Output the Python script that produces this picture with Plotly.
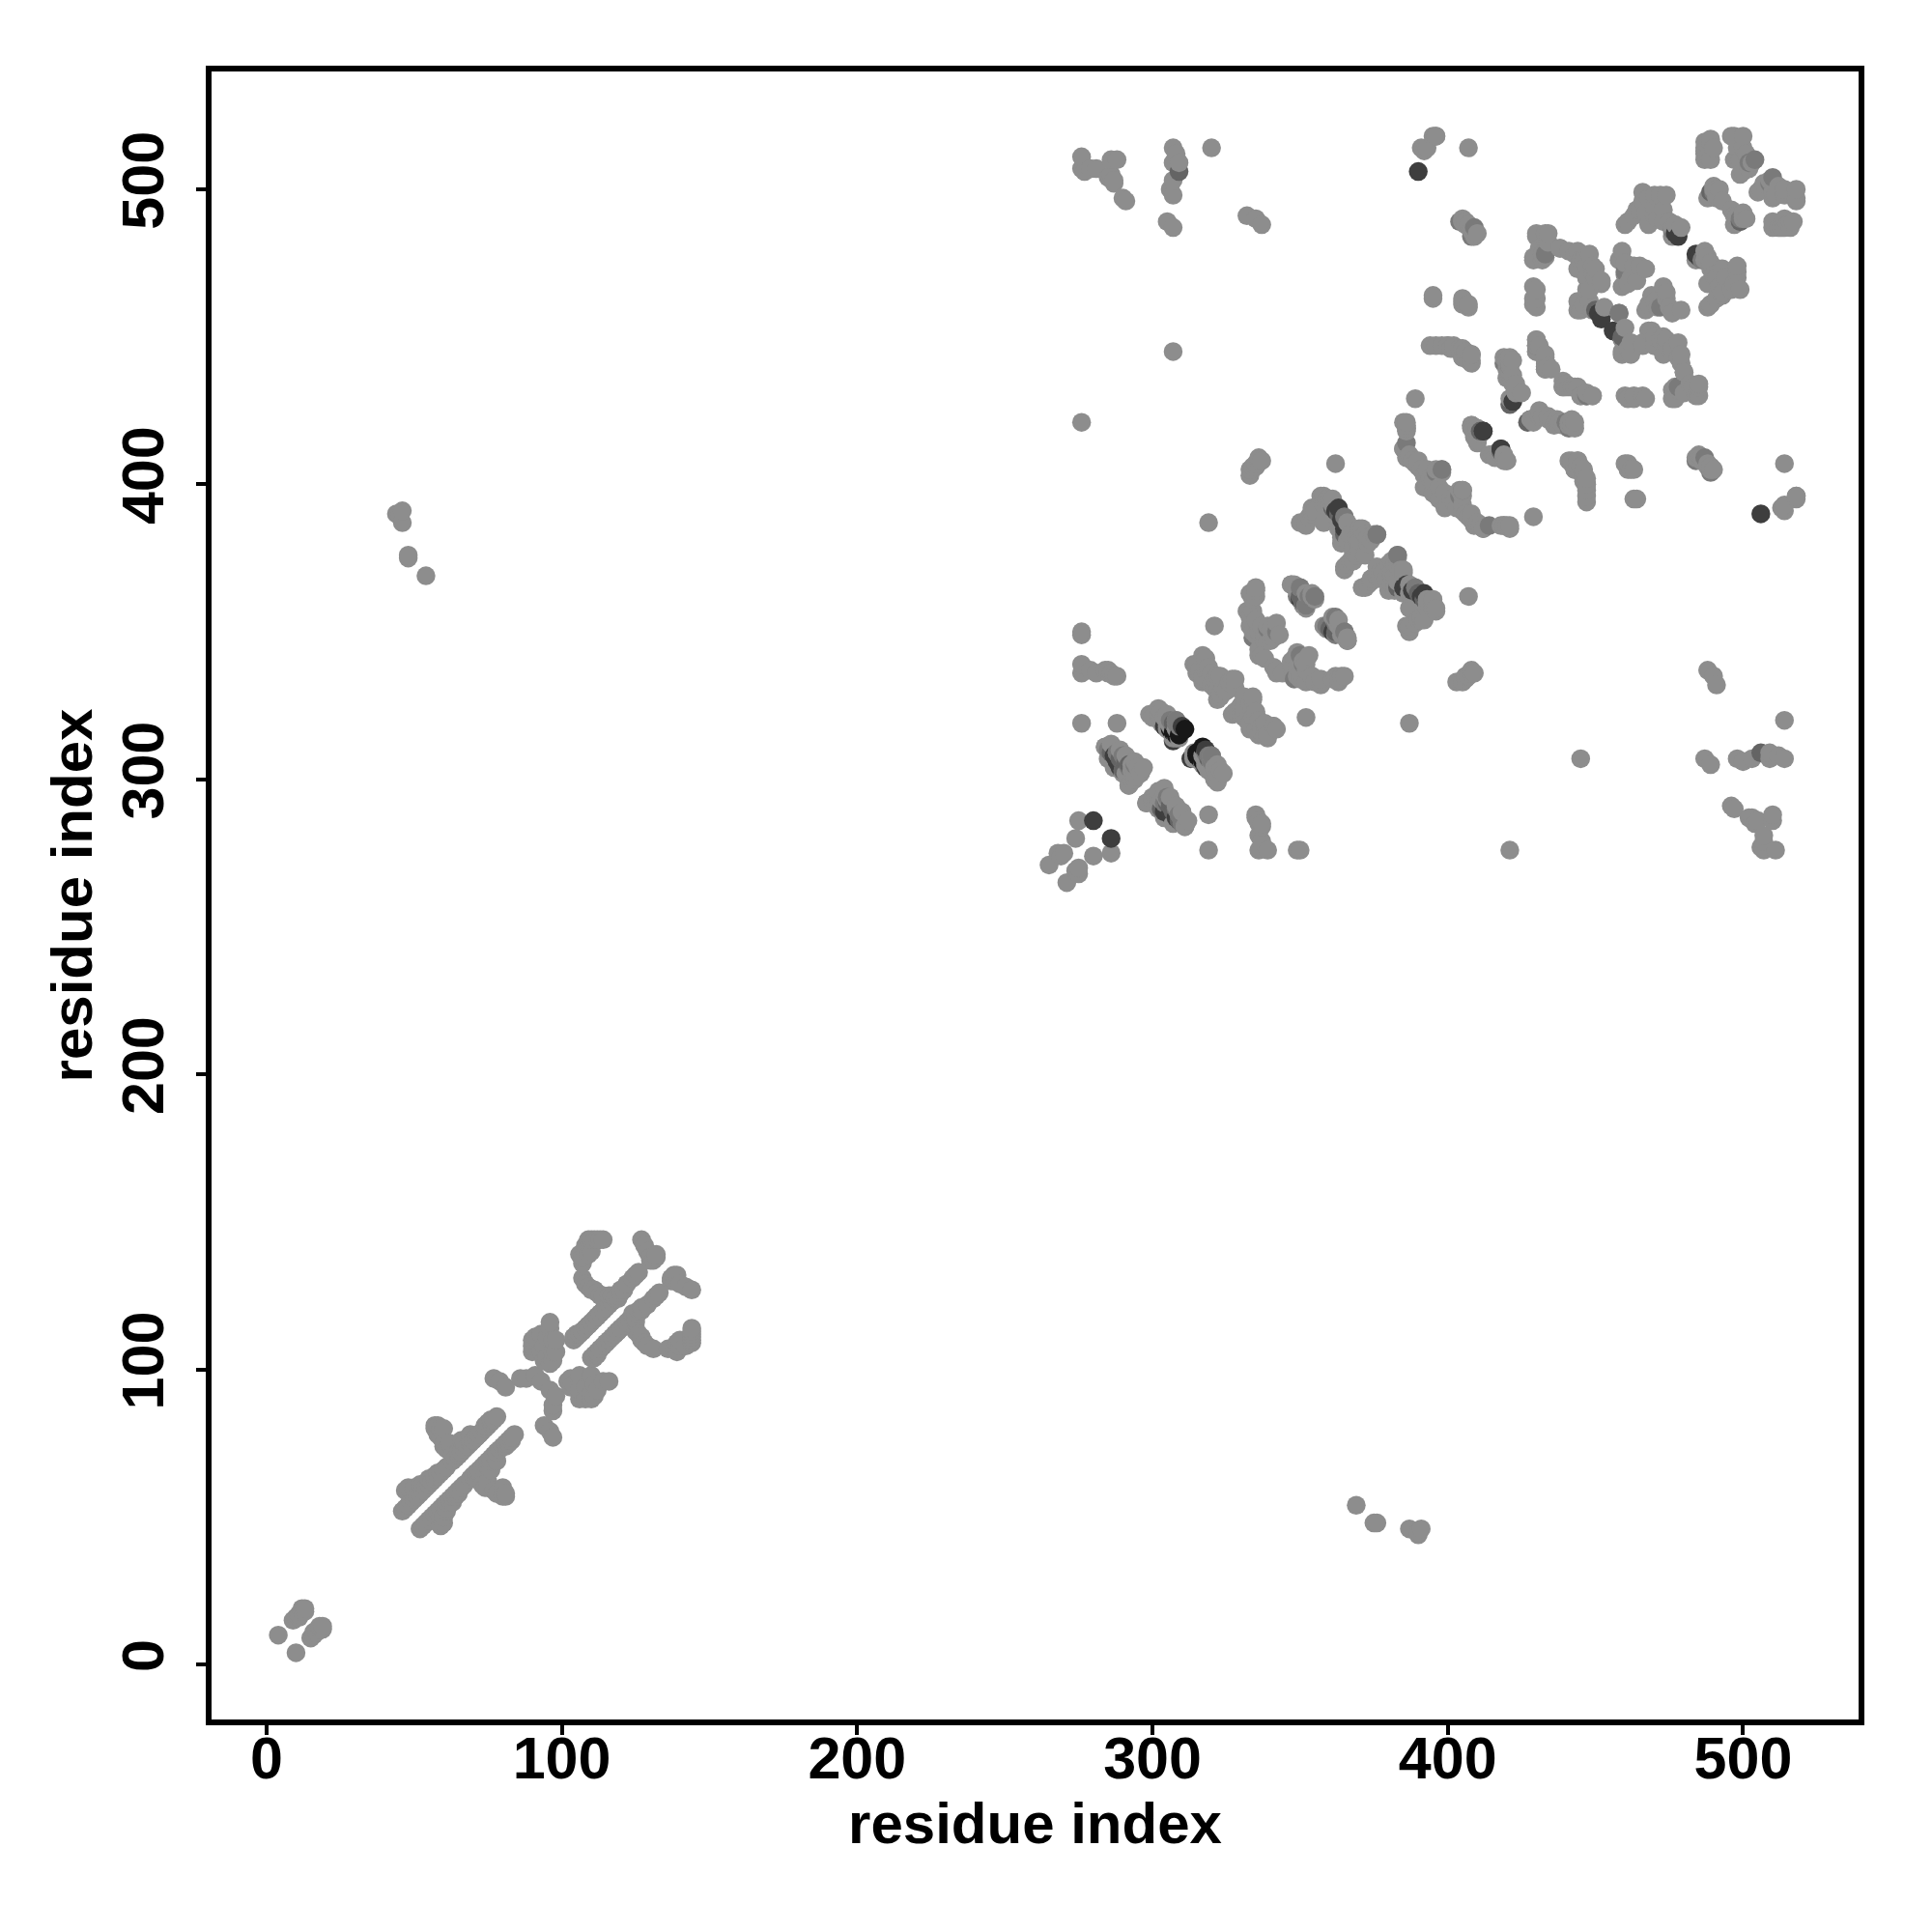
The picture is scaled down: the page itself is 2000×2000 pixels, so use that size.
import numpy as np
import plotly.graph_objects as go

# residue contacts, upper triangle (i < j); shade = grey level of the dot
base_i = [4,9,10,11,12,13,13,12,11,46,47,48,49,47,48,50,50,52,53,55,57,58,63,64,65,
          57,57,58,59,60,58,59,60,60,61,63,66,67,69,69,71,72,74,75,76,78,65,62,
          77,81,79,86,88,91,93,90,90,90,91,92,93,93,94,95,96,96,97,97,96,97,98,98,95,94,
          104,105,107,109,110,111,112,113,114,
          107,106,107,108,109,110,108,109,110,111,112,113,114,107,108,109,110,111,112,113,114,116,117,118,119,120,122,124,125,126,
          127,128,129,130,130,131,132,132,44,45,46,46,48,48,54,
          265,268,269,270,274,275,276,288,276,276,276,276,279,281,284,285,285,286,287,288,276,
          284,294,295,297,294,293,292,294,
          302,303,303,305,308,306,307,304,305,
          315,316,317,318,319,320,322,323,326,327,317,322,320,323,319,321,324,325,321,
          333,335,334,333,335,333,337,339,340,343,342,335,339,337,338,336,334,336,338,340,341,335,334,
          347,350,352,354,
          350,352,353,354,357,358,359,360,366,365,366,368,368,365,367,369,370,372,374,375,373,370,371,367,369,355,
          362,319,276,276,279,277,281,286,288,287,286,285,287,291,290,307,308,309,307,307,307,306,320,305,307,307,332,335,337,
          333,334,336,335,333,335,336,337,391,393,395,396,407,395,
          389,386,386,385,386,385,386,387,388,389,390,391,393,392,394,396,398,392,393,395,395,397,398,390,386,385,386,386,
          394,396,398,400,402,405,406,408,407,408,405,405,407,405,405,406,407,408,410,409,
          420,420,422,421,422,423,423,421,422,420,431,434,437,440,442,443,441,
          408,409,410,411,416,418,419,420,417,414,415,
          430,430,430,433,433,433,434,435,429,429,429,429,430,433,431,433,433,432,429,434,
          438,441,443,444,447,450,452,447,449,446,448,444,444,447,449,453,446,
          439,441,443,445,447,449,460,463,466,442,444,443,445,446,447,447,446,
          461,461,463,464,484,486,488,489,392,396,
          459,458,460,463,465,467,459,462,461,460,464,448,445,452,449,444,438,432,434,430,
          460,461,466,468,470,472,474,467,470,471,473,475,476,477,479,463,465,
          489,487,487,487,488,490,497,500,498,499,499,501,502,503,500,497,498,500,496,
          488,490,492,491,490,491,489,489,487,489,487,491,493]
base_j = [10,15,16,17,18,18,19,19,16,52,53,54,55,59,60,59,60,61,61,63,64,65,69,70,72,
          80,81,81,80,80,78,77,75,74,73,71,76,75,76,78,77,78,81,82,83,84,71,75,
          97,94,96,97,97,98,96,110,108,106,111,110,106,112,108,111,116,114,106,110,102,103,110,106,104,103,
          111,112,113,115,116,117,118,119,120,
          136,139,138,140,139,140,142,144,144,144,144,144,144,131,129,128,127,127,126,125,125,125,125,124,124,127,129,131,132,133,
          144,142,140,138,137,137,139,138,390,390,391,387,376,375,369,
          271,275,274,275,280,286,319,319,349,350,339,336,337,336,337,337,336,336,335,335,421,
          311,305,304,304,301,303,298,300,
          324,323,321,322,320,320,319,318,317,
          338,337,342,341,338,336,335,335,333,334,335,330,332,328,333,331,331,330,352,
          363,364,361,355,354,352,352,351,351,349,350,349,347,342,341,344,357,350,349,347,348,365,363,
          366,365,363,362,
          387,387,389,392,396,396,395,393,387,382,381,379,377,372,374,376,385,383,381,383,380,378,384,383,382,391,
          407,387,511,507,507,506,507,510,510,503,505,504,502,496,497,514,512,509,509,503,498,500,514,489,487,445,491,490,488,
          405,406,408,407,403,406,409,408,514,514,518,518,514,463,
          429,420,419,421,418,412,411,410,408,407,406,405,405,403,402,405,405,399,400,401,397,399,404,408,409,412,419,421,
          447,447,447,447,446,446,444,444,442,441,443,462,460,490,489,489,488,486,485,486,
          441,439,442,443,437,434,432,429,428,442,423,422,421,421,420,419,421,
          420,419,419,418,409,410,408,408,411,410,410,
          449,447,445,444,442,439,440,439,467,461,463,477,484,485,480,483,477,476,476,485,
          480,479,478,473,474,473,468,470,472,476,466,462,459,466,459,460,461,
          433,433,433,430,430,430,430,430,430,408,408,405,406,404,402,400,401,
          405,407,405,395,409,408,406,405,513,518,
          479,476,475,474,474,473,467,470,468,471,469,462,459,469,474,479,480,478,482,485,
          488,489,496,497,498,498,498,492,494,490,489,489,487,488,487,491,493,
          516,514,510,512,515,514,518,518,514,510,505,512,507,509,506,510,511,514,518,
          497,500,500,497,501,498,510,517,513,499,516,500,496]
fill_i = [50,51,52,53,54,55,56,57,58,59,60,61,64,65,66,67,68,69,70,71,72,73,74,75,76,77,
          104,105,106,107,108,109,112,113,114,115,116,117,118,119,120,121,
          284,286,289,291,294,285,287,290,292,294,296,293,291,293,
          302,303,305,306,308,305,309,300,299,304,307,308,
          321,325,318,315,323,322,328,328,322,318,318,314,317,315,
          332,334,338,336,339,335,335,342,
          355,352,354,350,348,347,349,351,352,
          365,368,372,376,371,370,364,363,358,352,354,354,358,361,363,360,361,364,370,366,369,373,358,
          421,420,422,431,431,433,447,450,445,448,466,470,473,476,464,468]
fill_j = [56,57,58,59,60,61,62,63,64,65,66,67,70,71,72,73,74,75,76,77,78,79,80,81,82,83,
          110,111,112,113,114,115,118,119,120,121,122,123,124,125,126,127,
          311,312,310,308,306,307,304,302,298,302,302,305,302,300,
          322,319,320,318,314,318,314,321,322,321,314,317,
          334,330,337,339,329,327,331,334,335,338,341,339,333,336,
          357,350,347,342,352,354,362,353,
          361,359,363,361,366,366,364,359,358,
          371,374,376,383,385,381,382,387,387,386,390,391,393,395,385,395,393,380,377,373,381,382,395,
          438,436,435,425,447,440,470,470,476,478,499,491,493,484,493,488]
soft_i = [288,290,292,294,285,288,290,306,308,309,350,349,353,355,361,365,476,
          458,460,502,504,490,419,433,308,409,376,386,352,339,334,342,396,405,
          421,430,484,489]
soft_j = [309,308,304,305,310,309,303,320,320,318,365,362,362,362,392,389,486,
          458,472,509,510,499,441,478,319,487,383,414,359,351,348,350,404,398,
          440,447,408,404]
mid_i = [286,289,290,291,292,307,350,351,361,363,365,309,411,421,450,489]
mid_j = [309,307,303,306,305,319,362,360,392,390,383,506,418,427,459,499]
dark_i = [280,287,288,289,304,310,362,364,350,390,412,418,428,451,452,477,478,385,386,363,307]
dark_j = [286,308,306,304,318,318,391,388,361,506,418,412,422,458,456,485,484,365,366,392,313]
black_i = [311,306,307,308,309]
black_j = [317,317,316,315,315]

shade_base, shade_soft, shade_mid, shade_dark, shade_black = 141, 122, 100, 62, 24

i_all = np.array(base_i + fill_i + soft_i + mid_i + dark_i + black_i)
j_all = np.array(base_j + fill_j + soft_j + mid_j + dark_j + black_j)
g_all = np.array([shade_base]*(len(base_i)+len(fill_i)) + [shade_soft]*len(soft_i) + [shade_mid]*len(mid_i)
                 + [shade_dark]*len(dark_i) + [shade_black]*len(black_i))

# a contact map is symmetric: draw (i, j) and (j, i), in order of x
x = np.concatenate([i_all, j_all])
y = np.concatenate([j_all, i_all])
g = np.concatenate([g_all, g_all])
order = np.lexsort((y, x))
x, y, g = x[order], y[order], g[order]
colors = [f"rgb({v},{v},{v})" for v in g]

ticks = [0, 100, 200, 300, 400, 500]
title_text = "residue index"
FONT = "Liberation Sans"

fig = go.Figure(go.Scatter(x=x.tolist(), y=y.tolist(), mode="markers",
                           marker=dict(size=19.5, color=colors, line=dict(width=0)),
                           showlegend=False, hoverinfo="skip"))
axis = dict(ticks="outside", tickvals=ticks, ticklen=10, tickwidth=4,
            tickcolor="black", showgrid=False, zeroline=False, showline=True, linewidth=6,
            linecolor="black", mirror=True,
            tickfont=dict(family=FONT, size=61, color="black", weight="bold"))
fig.update_xaxes(**axis, range=[-18.6, 539.1], ticklabelstandoff=-28, title=dict(text=title_text, standoff=4,
                 font=dict(family=FONT, size=60, color="black", weight="bold")))
fig.update_yaxes(**axis, range=[-18.6, 539.9], tickangle=-90, ticklabelstandoff=10, title=dict(text=title_text, standoff=1,
                 font=dict(family=FONT, size=60, color="black", weight="bold")))
fig.update_layout(width=2000, height=2000, paper_bgcolor="white", plot_bgcolor="white",
                  margin=dict(l=211, r=84, t=66, b=228, autoexpand=False))
fig.write_html("out.html")
